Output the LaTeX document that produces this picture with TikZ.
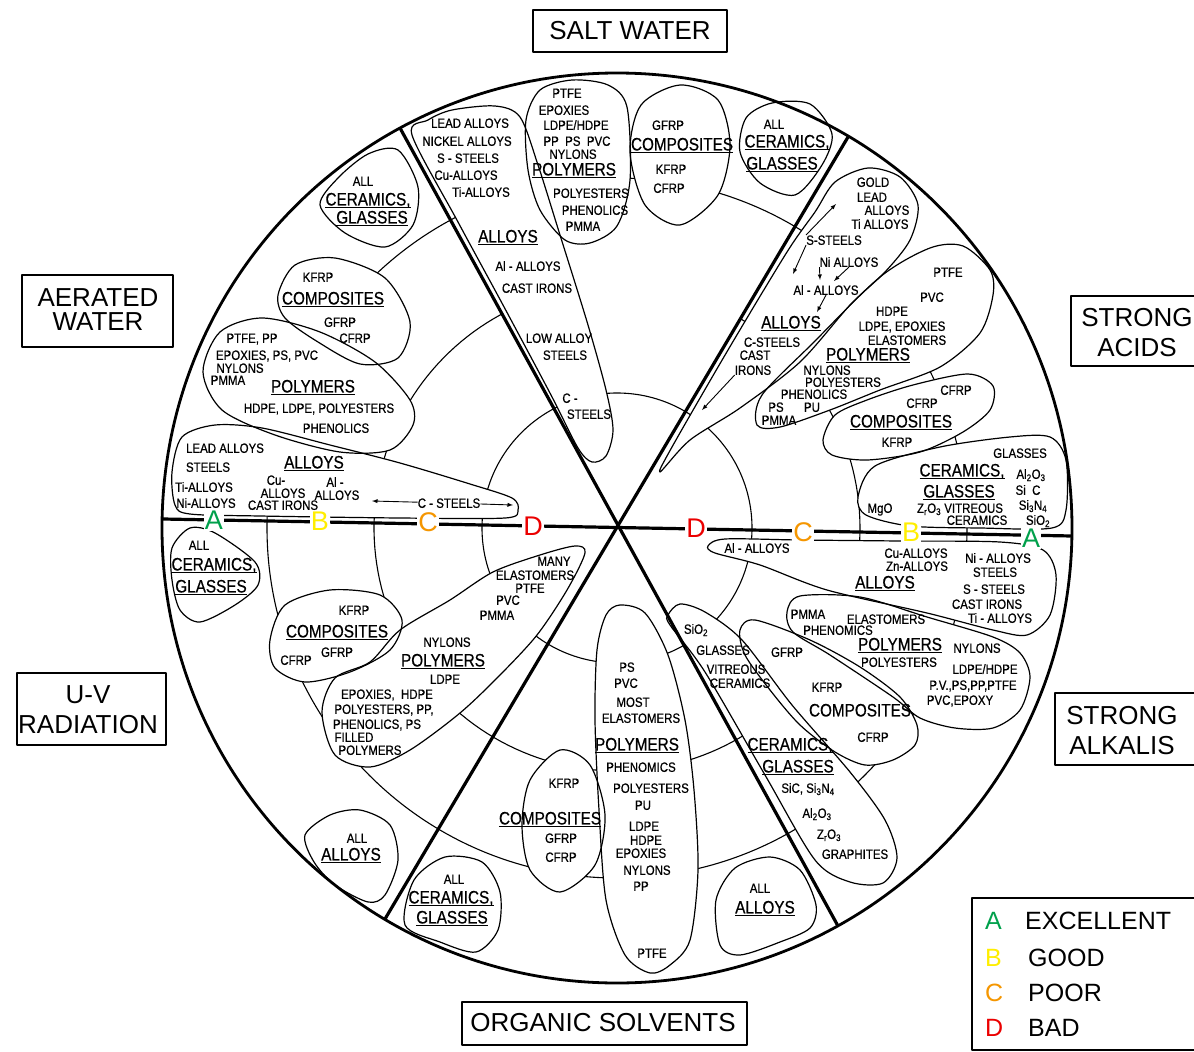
\documentclass[tikz,border=0pt]{standalone}
\usepackage{fontspec}
\setmainfont{Liberation Sans}
\newfontfamily\lett[FakeStretch=0.85,FakeBold=0.6]{Liberation Sans}
\usetikzlibrary{arrows}
\definecolor{gradeA}{RGB}{0,160,75}
\definecolor{gradeB}{RGB}{255,238,0}
\definecolor{gradeC}{RGB}{245,150,0}
\definecolor{gradeD}{RGB}{235,0,0}
\pgfdeclarelayer{rings}
\pgfdeclarelayer{fills}
\pgfsetlayers{rings,fills,main}
% underlined group heading
\newcommand*{\hd}[1]{\leavevmode\setbox0=\hbox{#1}\rlap{\rule[-3pt]{\wd0}{1pt}}\box0}
% white-filled outline, fill kept under every outline
\newcommand*{\blob}[1]{%
  \begin{pgfonlayer}{fills}\fill[white] plot[smooth cycle] coordinates {#1};\end{pgfonlayer}
  \draw[bline] plot[smooth cycle] coordinates {#1};}
\tikzstyle{base}=[x=1pt, y=-1pt, line join=round]
\tikzstyle{bline}=[line width=1.2pt]
\tikzstyle{ring}=[line width=1.1pt]
\tikzstyle{rim}=[line width=2.8pt]
\tikzstyle{spoke}=[line width=3.2pt]
\tikzstyle{txt}=[font=\lett\fontsize{13.5}{14}\selectfont, inner sep=0pt, text height=9.7pt, text depth=0pt]
\tikzstyle{head}=[font=\lett\fontsize{18}{19}\selectfont, inner sep=0pt, text height=12.9pt, text depth=0pt]
\tikzstyle{title}=[font=\fontsize{26}{30}\selectfont, align=center, inner sep=0pt]
\tikzstyle{tbox}=[line width=2.6pt]
\tikzstyle{grade}=[font=\fontsize{27}{28}\selectfont, fill=white, inner sep=1pt, text height=19pt, text depth=0pt]
\tikzstyle{legend}=[font=\fontsize{25}{26}\selectfont, anchor=west, inner sep=0pt, text height=18pt, text depth=0pt]
\tikzstyle{arr}=[-latex, line width=0.9pt]

\begin{document}
\begin{tikzpicture}[base]
\useasboundingbox (0,0) rectangle (1194,1052);
\coordinate (O) at (617,528);

% grade rings
\begin{pgfonlayer}{rings}
  \draw[ring] (O) circle (135);
  \draw[ring] plot[domain=118.5:419.4, samples=160] ({617+243*cos(\x)}, {528-243*sin(\x)});
  \draw[ring] (O) circle (350);
\end{pgfonlayer}

% salt water
\blob{(412,135) (428,120) (452,110) (495,106) (520,117) (538,165) (560,235) (588,325) (606,390) (613,430) (606,456) (592,462) (578,448) (551,395) (503,305) (458,222)}
\blob{(526,120) (540,90) (572,80) (608,85) (627,107) (630,180) (617,226) (590,243) (565,240) (540,210) (528,170)}
\blob{(630,152) (641,105) (680,85) (718,100) (730,145) (718,195) (680,225) (645,205)}
\blob{(740,152) (746,118) (772,103) (810,104) (832,134) (822,165) (795,195) (760,183)}
% aerated water
\blob{(320,205) (338,178) (368,154) (398,150) (418,187) (413,225) (385,247) (345,233)}
\blob{(278,295) (295,265) (335,258) (385,278) (410,322) (398,358) (360,364) (318,342) (285,318)}
\blob{(203,372) (220,332) (262,318) (320,332) (375,362) (410,400) (413,425) (390,450) (340,452) (275,435) (222,410)}
\blob{(172,472) (182,437) (215,425) (262,428) (330,445) (400,463) (470,484) (512,498) (518,510) (505,518) (400,518) (260,516) (190,514) (175,505)}
% strong acids
\blob{(660,472) (690,440) (740,408) (800,362) (850,305) (885,272) (910,240) (918,205) (900,177) (868,168) (835,182) (815,212) (787,252) (728,350) (672,447)}
\blob{(757,425) (762,395) (813,343) (880,277) (930,248) (963,246) (990,270) (993,295) (980,333) (940,367) (880,390) (830,410) (780,427)}
\blob{(823,440) (835,415) (867,400) (913,385) (968,374) (993,386) (990,410) (963,432) (920,452) (867,460) (832,455)}
\blob{(858,497) (875,466) (940,447) (1010,437) (1050,437) (1066,460) (1066,510) (1052,528) (980,528) (910,526) (866,515)}
% strong alkalis
\blob{(708,546) (725,539) (800,540) (900,541) (1000,542) (1043,550) (1056,575) (1050,615) (1027,635) (993,630) (927,613) (827,590) (760,565) (715,553)}
\blob{(787,612) (800,596) (860,597) (927,617) (993,637) (1020,653) (1030,677) (1020,710) (993,728) (955,728) (920,718) (893,697) (830,655) (793,632)}
\blob{(740,630) (755,620) (810,640) (860,667) (900,697) (917,725) (915,745) (893,760) (865,765) (835,752) (800,725) (770,690) (745,655)}
\blob{(668,615) (680,604) (705,612) (742,640) (792,705) (850,772) (885,820) (897,858) (883,883) (850,882) (815,860) (765,775) (705,672) (670,625)}
% organic solvents
\blob{(620,605) (645,613) (668,655) (685,720) (694,790) (698,870) (690,940) (670,965) (650,973) (625,955) (606,900) (599,810) (595,720) (597,650) (606,615)}
\blob{(522,825) (530,780) (560,750) (590,765) (605,815) (595,865) (560,892) (530,870)}
\blob{(414,880) (445,857) (482,862) (500,892) (498,930) (476,952) (440,942) (405,925)}
\blob{(716,900) (735,868) (770,857) (800,870) (816,905) (810,928) (780,942) (740,955) (720,945)}
% u-v radiation
\blob{(172,548) (190,528) (215,533) (255,562) (258,585) (235,605) (200,622) (180,610) (172,580)}
\blob{(270,640) (285,605) (330,590) (380,595) (402,620) (390,650) (350,672) (305,682) (275,668)}
\blob{(322,712) (335,678) (370,662) (400,630) (450,600) (493,572) (540,555) (575,546) (585,553) (567,590) (537,635) (500,675) (460,713) (410,750) (370,767) (335,755)}
\blob{(305,835) (330,815) (360,810) (390,825) (398,860) (385,895) (368,902) (335,885) (314,862)}

% wheel
\coordinate (nw) at (400,128);
\coordinate (se) at (838,926);
\coordinate (ne) at (848,137);
\coordinate (sw) at (385,919);
\coordinate (w) at (163,519);
\coordinate (e) at (1072,536);
\draw[rim] (O) circle (455);
\draw[spoke] (nw) -- (se);
\draw[spoke] (ne) -- (sw);
\draw[spoke] (w) -- (e);

% salt water texts
\node[txt] (sw-a1) at (470,123) {LEAD ALLOYS};
\node[txt] (sw-a2) at (467,141) {NICKEL ALLOYS};
\node[txt] (sw-a3) at (468,158) {S - STEELS};
\node[txt] (sw-a4) at (466,175) {Cu-ALLOYS};
\node[txt] (sw-a5) at (481,192) {Ti-ALLOYS};
\node[head] (sw-ah) at (508,236) {\hd{ALLOYS}};
\node[txt] (sw-a6) at (528,266) {Al - ALLOYS};
\node[txt] (sw-a7) at (537,288) {CAST IRONS};
\node[txt] (sw-a8) at (559,338) {LOW ALLOY};
\node[txt] (sw-a9) at (565,355) {STEELS};
\node[txt] (sw-a10) at (570,398) {C -};
\node[txt] (sw-a11) at (589,414) {STEELS};
\node[txt] (sw-p1) at (567,93) {PTFE};
\node[txt] (sw-p2) at (564,110) {EPOXIES};
\node[txt] (sw-p3) at (576,125) {LDPE/HDPE};
\node[txt] (sw-p4) at (577,141) {PP\ \ PS\ \ PVC};
\node[txt] (sw-p5) at (573,154) {NYLONS};
\node[head] (sw-ph) at (574,169) {\hd{POLYMERS}};
\node[txt] (sw-p6) at (591,193) {POLYESTERS};
\node[txt] (sw-p7) at (595,210) {PHENOLICS};
\node[txt] (sw-p8) at (583,226) {PMMA};
\node[txt] (sw-c1) at (668,125) {GFRP};
\node[head] (sw-ch) at (682,144) {\hd{COMPOSITES}};
\node[txt] (sw-c2) at (671,169) {KFRP};
\node[txt] (sw-c3) at (669,188) {CFRP};
\node[txt] (sw-g1) at (774,124) {ALL};
\node[head] (sw-gh1) at (787,141) {\hd{CERAMICS,}};
\node[head] (sw-gh2) at (782,163) {\hd{GLASSES}};

% aerated water texts
\node[txt] (aw-g1) at (363,181) {ALL};
\node[head] (aw-gh1) at (368,199) {\hd{CERAMICS,}};
\node[head] (aw-gh2) at (372,217) {\hd{GLASSES}};
\node[txt] (aw-c1) at (318,277) {KFRP};
\node[head] (aw-ch) at (333,298) {\hd{COMPOSITES}};
\node[txt] (aw-c2) at (340,322) {GFRP};
\node[txt] (aw-c3) at (355,338) {CFRP};
\node[txt] (aw-p1) at (252,338) {PTFE,\ PP};
\node[txt] (aw-p2) at (267,355) {EPOXIES, PS, PVC};
\node[txt] (aw-p3) at (240,368) {NYLONS};
\node[txt] (aw-p4) at (228,380) {PMMA};
\node[head] (aw-ph) at (313,386) {\hd{POLYMERS}};
\node[txt] (aw-p5) at (319,408) {HDPE, LDPE, POLYESTERS};
\node[txt] (aw-p6) at (336,428) {PHENOLICS};
\node[txt] (aw-a1) at (225,448) {LEAD ALLOYS};
\node[txt] (aw-a2) at (208,467) {STEELS};
\node[head] (aw-ah) at (314,462) {\hd{ALLOYS}};
\node[txt] (aw-a3) at (204,487) {Ti-ALLOYS};
\node[txt] (aw-a4) at (206,503) {Ni-ALLOYS};
\node[txt] (aw-a5) at (276,480) {Cu-};
\node[txt] (aw-a6) at (283,493) {ALLOYS};
\node[txt] (aw-a7) at (283,505) {CAST IRONS};
\node[txt] (aw-a8) at (335,482) {Al -};
\node[txt] (aw-a9) at (337,495) {ALLOYS};
\node[txt] (aw-a10) at (449,503) {C - STEELS};
\coordinate (aw-l) at (372,501);
\coordinate (aw-r) at (513,505);
\draw[arr] (aw-a10) -- (aw-l);
\draw[arr] (aw-a10) -- (aw-r);

% strong acids texts
\node[txt] (sa-a1) at (873,182) {GOLD};
\node[txt] (sa-a2) at (872,197) {LEAD};
\node[txt] (sa-a3) at (887,210) {ALLOYS};
\node[txt] (sa-a4) at (880,224) {Ti ALLOYS};
\node[txt] (sa-a5) at (834,240) {S-STEELS};
\node[txt] (sa-a6) at (849,262) {Ni ALLOYS};
\node[txt] (sa-a7) at (826,290) {Al - ALLOYS};
\node[head] (sa-ah) at (791,322) {\hd{ALLOYS}};
\node[txt] (sa-a8) at (772,342) {C-STEELS};
\node[txt] (sa-a9) at (755,355) {CAST};
\node[txt] (sa-a10) at (753,370) {IRONS};
\coordinate (sa-t1) at (836,204);
\coordinate (sa-t2) at (793,274);
\coordinate (sa-t3) at (820,280);
\coordinate (sa-t4) at (834,281);
\coordinate (sa-t5) at (817,312);
\coordinate (sa-t6) at (702,410);
\draw[arr] (sa-a5.north west) -- (sa-t1);
\draw[arr] (sa-a5.south west) -- (sa-t2);
\draw[arr] (sa-a6.south west) -- (sa-t3);
\draw[arr] (sa-a6.south) -- (sa-t4);
\draw[arr] (sa-a7.south) -- (sa-t5);
\draw[arr] (sa-a10.south west) -- (sa-t6);
\node[txt] (sa-p1) at (948,272) {PTFE};
\node[txt] (sa-p2) at (932,297) {PVC};
\node[txt] (sa-p3) at (892,311) {HDPE};
\node[txt] (sa-p4) at (902,326) {LDPE, EPOXIES};
\node[txt] (sa-p5) at (907,340) {ELASTOMERS};
\node[head] (sa-ph) at (868,354) {\hd{POLYMERS}};
\node[txt] (sa-p6) at (827,370) {NYLONS};
\node[txt] (sa-p7) at (843,382) {POLYESTERS};
\node[txt] (sa-p8) at (814,394) {PHENOLICS};
\node[txt] (sa-p9) at (776,407) {PS};
\node[txt] (sa-p10) at (812,407) {PU};
\node[txt] (sa-p11) at (779,420) {PMMA};
\node[txt] (sa-c1) at (956,390) {CFRP};
\node[txt] (sa-c2) at (922,403) {CFRP};
\node[head] (sa-ch) at (901,421) {\hd{COMPOSITES}};
\node[txt] (sa-c3) at (897,442) {KFRP};
\node[txt] (sa-g1) at (1020,453) {GLASSES};
\node[head] (sa-gh1) at (962,470) {\hd{CERAMICS,}};
\node[txt] (sa-g2) at (1031,474) {Al\textsubscript{2}O\textsubscript{3}};
\node[head] (sa-gh2) at (959,491) {\hd{GLASSES}};
\node[txt] (sa-g3) at (1028,490) {Si\ \ C};
\node[txt] (sa-g4) at (880,508) {MgO};
\node[txt] (sa-g5) at (960,508) {Z\textsubscript{r}O\textsubscript{3} VITREOUS};
\node[txt] (sa-g6) at (977,520) {CERAMICS};
\node[txt] (sa-g7) at (1033,505) {Si\textsubscript{3}N\textsubscript{4}};
\node[txt] (sa-g8) at (1038,520) {SiO\textsubscript{2}};

% strong alkalis texts
\node[txt] (sk-a1) at (757,548) {Al - ALLOYS};
\node[txt] (sk-a2) at (916,553) {Cu-ALLOYS};
\node[txt] (sk-a3) at (917,566) {Zn-ALLOYS};
\node[txt] (sk-a4) at (998,558) {Ni - ALLOYS};
\node[txt] (sk-a5) at (995,572) {STEELS};
\node[head] (sk-ah) at (885,582) {\hd{ALLOYS}};
\node[txt] (sk-a6) at (994,589) {S - STEELS};
\node[txt] (sk-a7) at (987,604) {CAST IRONS};
\node[txt] (sk-a8) at (1000,618) {Ti - ALLOYS};
\node[txt] (sk-p1) at (808,614) {PMMA};
\node[txt] (sk-p2) at (886,619) {ELASTOMERS};
\node[txt] (sk-p3) at (838,630) {PHENOMICS};
\node[head] (sk-ph) at (900,644) {\hd{POLYMERS}};
\node[txt] (sk-p4) at (977,648) {NYLONS};
\node[txt] (sk-p5) at (899,662) {POLYESTERS};
\node[txt] (sk-p6) at (985,669) {LDPE/HDPE};
\node[txt] (sk-p7) at (973,685) {P.V.,PS,PP,PTFE};
\node[txt] (sk-p8) at (960,700) {PVC,EPOXY};
\node[txt] (sk-c1) at (787,652) {GFRP};
\node[txt] (sk-c2) at (827,687) {KFRP};
\node[head] (sk-ch) at (860,710) {COMPOSITES};
\node[txt] (sk-c3) at (873,737) {CFRP};
\node[txt] (sk-g1) at (696,629) {SiO\textsubscript{2}};
\node[txt] (sk-g2) at (723,650) {GLASSES};
\node[txt] (sk-g3) at (736,669) {VITREOUS};
\node[txt] (sk-g4) at (740,683) {CERAMICS};
\node[head] (sk-gh1) at (790,744) {\hd{CERAMICS,}};
\node[head] (sk-gh2) at (798,766) {\hd{GLASSES}};
\node[txt] (sk-g5) at (808,788) {SiC, Si\textsubscript{3}N\textsubscript{4}};
\node[txt] (sk-g6) at (817,813) {Al\textsubscript{2}O\textsubscript{3}};
\node[txt] (sk-g7) at (829,834) {Z\textsubscript{r}O\textsubscript{3}};
\node[txt] (sk-g8) at (855,854) {GRAPHITES};

% organic solvents texts
\node[txt] (os-p1) at (627,667) {PS};
\node[txt] (os-p2) at (626,683) {PVC};
\node[txt] (os-p3) at (633,702) {MOST};
\node[txt] (os-p4) at (641,718) {ELASTOMERS};
\node[head] (os-ph) at (637,744) {\hd{POLYMERS}};
\node[txt] (os-p5) at (641,767) {PHENOMICS};
\node[txt] (os-p6) at (651,788) {POLYESTERS};
\node[txt] (os-p7) at (643,805) {PU};
\node[txt] (os-p8) at (644,826) {LDPE};
\node[txt] (os-p9) at (646,840) {HDPE};
\node[txt] (os-p10) at (641,853) {EPOXIES};
\node[txt] (os-p11) at (647,870) {NYLONS};
\node[txt] (os-p12) at (641,886) {PP};
\node[txt] (os-p13) at (652,953) {PTFE};
\node[txt] (os-c1) at (564,783) {KFRP};
\node[head] (os-ch) at (550,818) {\hd{COMPOSITES}};
\node[txt] (os-c2) at (561,838) {GFRP};
\node[txt] (os-c3) at (561,857) {CFRP};
\node[txt] (os-g1) at (454,879) {ALL};
\node[head] (os-gh1) at (451,897) {\hd{CERAMICS,}};
\node[head] (os-gh2) at (452,917) {\hd{GLASSES}};
\node[txt] (os-a1) at (760,888) {ALL};
\node[head] (os-ah) at (765,907) {\hd{ALLOYS}};

% u-v radiation texts
\node[txt] (uv-g1) at (199,545) {ALL};
\node[head] (uv-gh1) at (214,564) {\hd{CERAMICS,}};
\node[head] (uv-gh2) at (211,586) {\hd{GLASSES}};
\node[txt] (uv-c1) at (354,610) {KFRP};
\node[head] (uv-ch) at (337,631) {\hd{COMPOSITES}};
\node[txt] (uv-c2) at (337,652) {GFRP};
\node[txt] (uv-c3) at (296,660) {CFRP};
\node[txt] (uv-p1) at (554,561) {MANY};
\node[txt] (uv-p2) at (535,575) {ELASTOMERS};
\node[txt] (uv-p3) at (530,588) {PTFE};
\node[txt] (uv-p4) at (508,600) {PVC};
\node[txt] (uv-p5) at (497,615) {PMMA};
\node[txt] (uv-p6) at (447,642) {NYLONS};
\node[head] (uv-ph) at (443,660) {\hd{POLYMERS}};
\node[txt] (uv-p7) at (445,679) {LDPE};
\node[txt] (uv-p8) at (387,694) {EPOXIES,\ \ HDPE};
\node[txt] (uv-p9) at (384,709) {POLYESTERS, PP,};
\node[txt] (uv-p10) at (377,724) {PHENOLICS, PS};
\node[txt] (uv-p11) at (354,737) {FILLED};
\node[txt] (uv-p12) at (370,750) {POLYMERS};
\node[txt] (uv-a1) at (357,838) {ALL};
\node[head] (uv-ah) at (351,854) {\hd{ALLOYS}};

% grade letters on the horizontal spoke
\node[grade, text=gradeA] (la) at (214,520) {A};
\node[grade, text=gradeB] (lb) at (320,521) {B};
\node[grade, text=gradeC] (lc) at (428,522) {C};
\node[grade, text=gradeD] (ld) at (533,526) {D};
\node[grade, text=gradeD] (rd) at (696,528) {D};
\node[grade, text=gradeC] (rc) at (803,532) {C};
\node[grade, text=gradeB] (rb) at (911,532) {B};
\node[grade, text=gradeA] (ra) at (1031,538) {A};

% environments
\draw[tbox] (533,10) rectangle (727,52);
\node[title] (salt) at (630,31) {SALT WATER};
\draw[tbox] (22,275) rectangle (173,347);
\node[title, font=\fontsize{26}{24}\selectfont] (aerated) at (98,310) {AERATED\\WATER};
\draw[tbox] (1071,296) rectangle (1200,366);
\node[title] (acids) at (1137,333) {STRONG\\ACIDS};
\draw[tbox] (1055,693) rectangle (1200,765);
\node[title] (alkalis) at (1122,731) {STRONG\\ALKALIS};
\draw[tbox] (17,673) rectangle (166,745);
\node[title] (uvrad) at (88,710) {U-V\\RADIATION};
\draw[tbox] (462,1002) rectangle (747,1045);
\node[title] (organic) at (603,1023) {ORGANIC SOLVENTS};

% legend
\draw[tbox] (972,898) rectangle (1200,1050);
\node[legend, text=gradeA] (ka) at (985,920) {A};
\node[legend, text=gradeB] (kb) at (985,957) {B};
\node[legend, text=gradeC] (kc) at (985,992) {C};
\node[legend, text=gradeD] (kd) at (985,1027) {D};
\node[legend] (kexc) at (1025,920) {EXCELLENT};
\node[legend] (kgood) at (1028,957) {GOOD};
\node[legend] (kpoor) at (1028,992) {POOR};
\node[legend] (kbad) at (1028,1027) {BAD};
\end{tikzpicture}
\end{document}
